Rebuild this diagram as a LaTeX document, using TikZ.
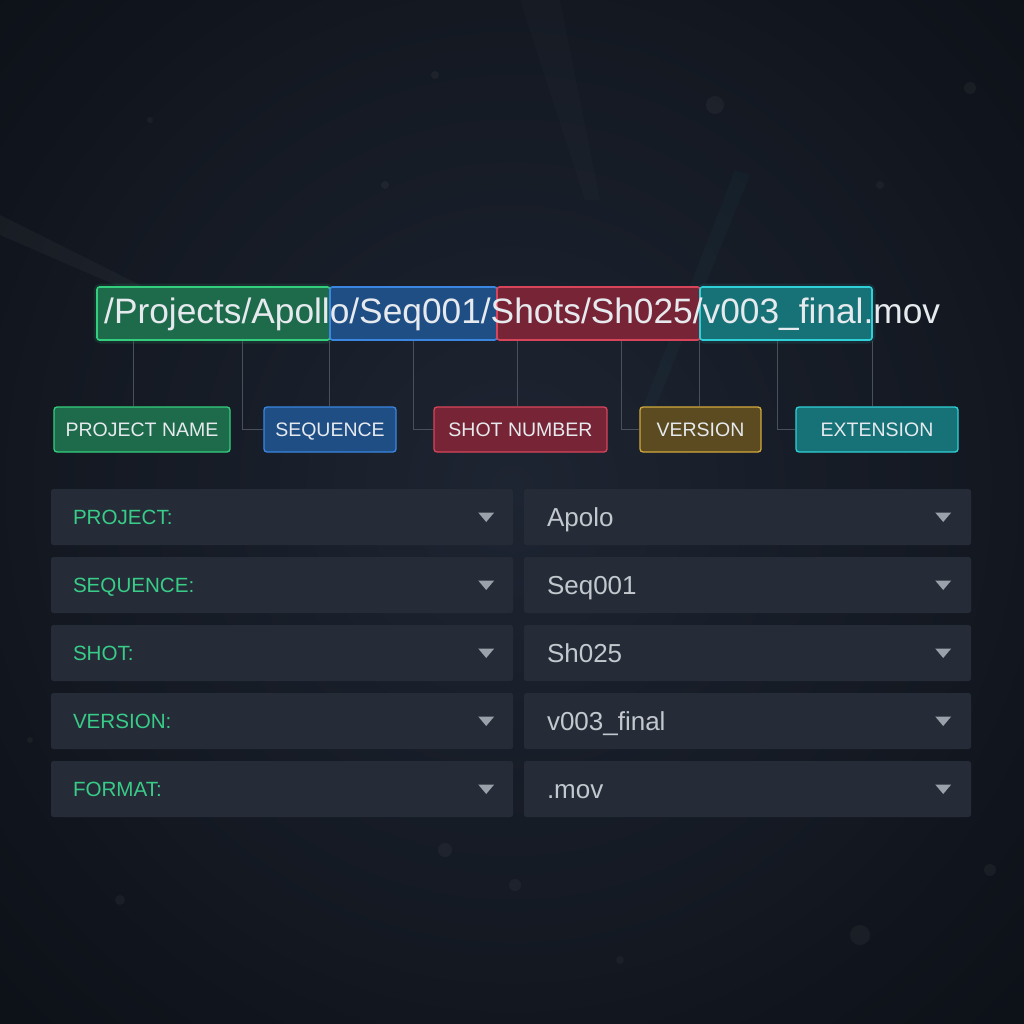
\documentclass[tikz,border=0pt]{standalone}
\usepackage{fontspec}
\setmainfont{Liberation Sans}
\definecolor{bgA}{HTML}{1E2532}
\definecolor{bgB}{HTML}{0D1118}
\definecolor{gFill}{HTML}{1E6B4C}
\definecolor{gLine}{HTML}{34CF7E}
\definecolor{bFill}{HTML}{1F4E84}
\definecolor{bLine}{HTML}{3A86E0}
\definecolor{rFill}{HTML}{772536}
\definecolor{rLine}{HTML}{D8455A}
\definecolor{cFill}{HTML}{167276}
\definecolor{cLine}{HTML}{2FD0D8}
\definecolor{yFill}{HTML}{5C4B20}
\definecolor{yLine}{HTML}{D2A93C}
\definecolor{txtW}{HTML}{E6EAEE}
\definecolor{connC}{HTML}{4A5059}
\definecolor{ddFill}{HTML}{252C37}
\definecolor{ddLab}{HTML}{38CC88}
\definecolor{ddVal}{HTML}{C3C8CE}
\definecolor{triC}{HTML}{9BA1AA}
\begin{document}
\begin{tikzpicture}[x=1pt,y=-1pt,
  seg/.style={draw, line width=1.6pt, rounded corners=2.5pt, minimum height=53pt, inner sep=0pt},
  tag/.style={draw, line width=1.3pt, rounded corners=3pt, minimum height=45pt, inner sep=0pt,
    text=txtW, font=\fontsize{19.5}{22}\selectfont, text height=14pt, text depth=0pt},
  conn/.style={draw=connC, line width=1pt},
  ddbox/.style={fill=ddFill, rounded corners=2.5pt, minimum height=56pt, inner sep=0pt},
  ddlab/.style={anchor=base west, inner sep=0pt, text=ddLab, font=\fontsize{20.6}{24}\selectfont},
  ddval/.style={anchor=base west, inner sep=0pt, text=ddVal, font=\fontsize{26}{30}\selectfont},
  tri/.style={fill=triC}
]
% background
\useasboundingbox (0,0) rectangle (1024,1024);
\shade[inner color=bgA, outer color=bgB] (-200,-250) rectangle (1224,1224);
% faint light streaks
\fill[white, opacity=0.035] (0,215) -- (150,290) -- (150,300) -- (0,235) -- cycle;
\fill[white, opacity=0.015] (520,0) -- (560,0) -- (600,200) -- (585,200) -- cycle;
\fill[cLine, opacity=0.03] (735,170) -- (750,175) -- (650,420) -- (640,415) -- cycle;
% bokeh
\foreach \px/\py/\r in {435/75/4,715/105/9,385/185/4,970/88/6,150/120/3,860/935/10,445/850/7,120/900/5,990/870/6,235/720/6,515/885/6,620/960/4,30/740/3,880/185/4}
  \fill[white, opacity=0.04] (\px,\py) circle (\r);

% path bar segments (glow)
\draw[gLine, line width=7pt, opacity=0.12, rounded corners=4pt] (97,287) rectangle (330,340);
\draw[cLine, line width=7pt, opacity=0.10, rounded corners=4pt] (700,287) rectangle (872,340);
\node[seg, fill=gFill, draw=gLine, minimum width=233pt] (s1) at (213.5,313.5) {};
\node[seg, fill=bFill, draw=bLine, minimum width=167pt] (s2) at (413.5,313.5) {};
\node[seg, fill=rFill, draw=rLine, minimum width=203pt] (s3) at (598.5,313.5) {};
\node[seg, fill=cFill, draw=cLine, minimum width=172pt] (s4) at (786,313.5) {};
\node[anchor=base west, inner sep=0pt, text=txtW, font=\fontsize{35.3}{40}\selectfont] (path) at (104,323.5)
  {/Projects/Apollo/Seq001/Shots/Sh025/v003\_final.mov};

% tag boxes
\node[tag, fill=gFill, draw=gLine, minimum width=176pt] (pn) at (142,429.5) {PROJECT NAME};
\node[tag, fill=bFill, draw=bLine, minimum width=132pt] (sq) at (330,429.5) {SEQUENCE};
\node[tag, fill=rFill, draw=rLine, minimum width=173pt] (sh) at (520.5,429.5) {SHOT NUMBER};
\node[tag, fill=yFill, draw=yLine, minimum width=121pt] (vr) at (700.5,429.5) {VERSION};
\node[tag, fill=cFill, draw=cLine, minimum width=162pt] (ex) at (877,429.5) {EXTENSION};

% taps on the bar
\coordinate (t1) at (133,341);
\coordinate (t2) at (242,341);
\coordinate (t3) at (329,341);
\coordinate (t4) at (413,341);
\coordinate (t5) at (517,341);
\coordinate (t6) at (621,341);
\coordinate (t7) at (699,341);
\coordinate (t8) at (777,341);
\coordinate (t9) at (872,341);
\draw[conn] (t1) -- (t1 |- pn.north);
\draw[conn] (t2) |- (sq.west);
\draw[conn] (t3) -- (t3 |- sq.north);
\draw[conn] (t4) |- (sh.west);
\draw[conn] (t5) -- (t5 |- sh.north);
\draw[conn] (t6) |- (vr.west);
\draw[conn] (t7) -- (t7 |- vr.north);
\draw[conn] (t8) |- (ex.west);
\draw[conn] (t9) -- (t9 |- ex.north);

% dropdown rows
\foreach \i/\yy/\lab/\val in {1/517/PROJECT:/Apolo,2/585/SEQUENCE:/Seq001,3/653/SHOT:/Sh025,4/721/VERSION:/v003\_final,5/789/FORMAT:/.mov}{
  \node[ddbox, minimum width=462pt] (L\i) at (282,\yy) {};
  \node[ddbox, minimum width=447pt] (R\i) at (747.5,\yy) {};
  \node[ddlab] (LT\i) at ([shift={(22,7.4)}]L\i.west) {\lab};
  \node[ddval] (RT\i) at ([shift={(23,9.3)}]R\i.west) {\val};
  \fill[tri] ([shift={(-35,-4.5)}]L\i.east) -- ++(16,0) -- ++(-8,9.5) -- cycle;
  \fill[tri] ([shift={(-36,-4.5)}]R\i.east) -- ++(16,0) -- ++(-8,9.5) -- cycle;
}
\end{tikzpicture}
\end{document}
